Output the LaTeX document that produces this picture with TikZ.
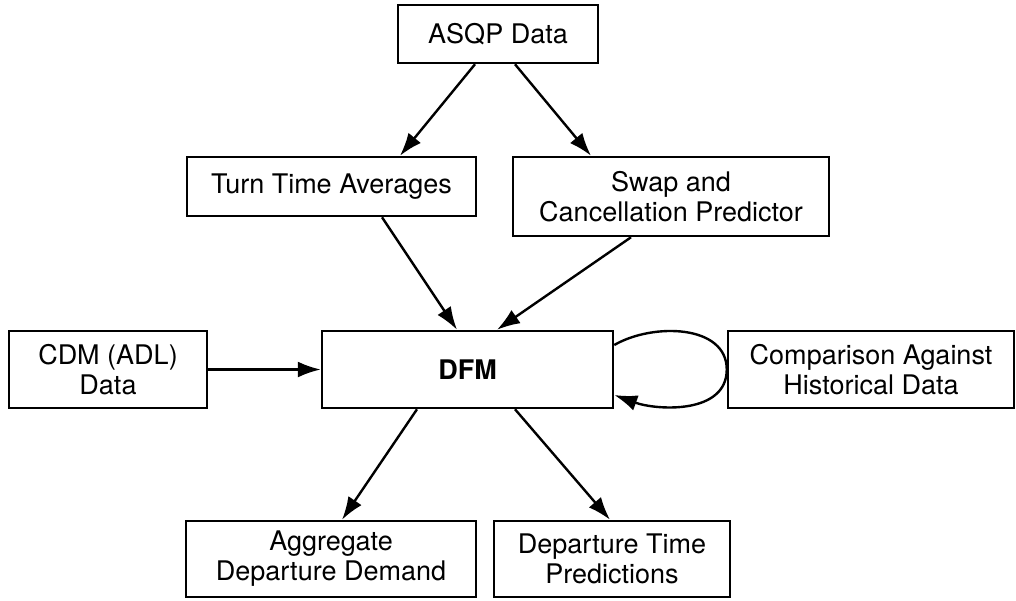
\documentclass[tikz,border=0pt]{standalone}
\usepackage{fontspec}
\setmainfont{TeX Gyre Heros}
\usetikzlibrary{arrows.meta}
\tikzset{
  box/.style={draw, line width=1.25pt, align=center, inner sep=0pt, font=\fontsize{13.5}{15}\selectfont},
  conn/.style={line width=1.2pt, -{Latex[length=11.5pt,width=8pt]}}
}
\begin{document}
\begin{tikzpicture}[x=0.5pt,y=-0.5pt]
\useasboundingbox (0,0) rectangle (1016,600);
\node[box, minimum width=100pt, minimum height=29pt] (asqp) at (498,34) {ASQP Data};
\node[box, minimum width=144.5pt, minimum height=29.5pt] (tt) at (331.5,186.5) {Turn Time Averages};
\node[box, minimum width=158pt, minimum height=39.5pt] (swap) at (671,196.5) {Swap and\\Cancellation Predictor};
\node[box, minimum width=99pt, minimum height=38.5pt] (cdm) at (108,369.5) {CDM (ADL)\\Data};
\node[box, minimum width=145.5pt, minimum height=38.5pt] (dfm) at (467.5,369.5) {\bfseries DFM};
\node[box, minimum width=143pt, minimum height=38.5pt] (cmp) at (871,369.5) {Comparison Against\\Historical Data};
\node[box, minimum width=145pt, minimum height=38pt] (agg) at (331,559) {Aggregate\\Departure Demand};
\node[box, minimum width=118pt, minimum height=38pt] (dep) at (612,559) {Departure Time\\Predictions};

\draw[conn] ([xshift=-11.5pt]asqp.south) -- ([xshift=34.25pt]tt.north);
\draw[conn] ([xshift=8.5pt]asqp.south) -- ([xshift=-40pt]swap.north);
\draw[conn] ([xshift=25.25pt]tt.south) -- ([xshift=-5.25pt]dfm.north);
\draw[conn] ([xshift=-20pt]swap.south) -- ([xshift=14.75pt]dfm.north);
\draw[conn] (cdm.east) -- (dfm.west);
\draw[conn] ([xshift=-25.25pt]dfm.south) -- ([xshift=5.5pt]agg.north);
\draw[conn] ([xshift=23.75pt]dfm.south) -- ([xshift=-1pt]dep.north);
\draw[conn] ([yshift=12.25pt]dfm.east) to[out=30,in=90] (cmp.west) to[out=-90,in=-20] ([yshift=-12.75pt]dfm.east);
\end{tikzpicture}
\end{document}
